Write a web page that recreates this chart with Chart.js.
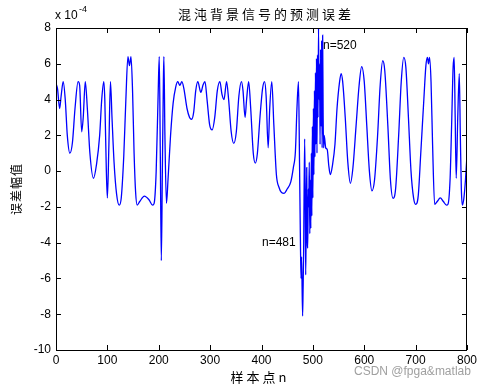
<!DOCTYPE html>
<html>
<head>
<meta charset="utf-8">
<script src="https://cdn.jsdelivr.net/npm/chart.js@4.4.1/dist/chart.umd.min.js"></script>
<style>
  html, body { margin: 0; padding: 0; background: #fff; }
  canvas { display: block; }
</style>
</head>
<body>
<canvas id="graficoError" width="490" height="388"></canvas>
<script>
// sample index n and prediction error (units of 1e-4)
const muestras = [
  0, 3, 7, 10, 14, 18, 22, 27, 32, 37, 43, 46, 50, 53, 57, 61, 66, 73, 79, 85,
  89, 93, 95, 98, 100, 103, 106, 109, 113, 118, 123, 127, 132, 136, 140, 143, 146, 149, 152, 155,
  158, 163, 172, 181, 188, 191, 195, 199, 201, 203, 205, 207, 209, 210, 212, 215, 218, 223, 228, 233,
  237, 241, 245, 249, 255, 260, 264, 268, 272, 276, 282, 286, 290, 294, 299, 304, 309, 314, 319, 323,
  327, 332, 336, 341, 346, 351, 356, 361, 364, 368, 371, 375, 379, 384, 388, 392, 397, 402, 406, 409,
  413, 416, 420, 424, 429, 434, 439, 444, 450, 457, 462, 466, 469, 472, 474, 476, 477, 478, 480, 481,
  482, 484, 485, 486, 487, 488, 489, 490, 491, 492, 493, 494, 495, 496, 497, 498, 499, 500, 501, 502,
  503, 504, 505, 506, 507, 508, 509, 510, 511, 512, 513, 514, 515, 516, 517, 518, 519, 520, 521, 522,
  525, 528, 531, 534, 538, 543, 547, 552, 555, 558, 563, 568, 573, 578, 584, 590, 595, 600, 605, 610,
  615, 620, 626, 631, 636, 640, 646, 651, 656, 661, 667, 672, 677, 681, 686, 691, 696, 700, 705, 710,
  716, 720, 723, 725, 727, 730, 733, 737, 742, 748, 754, 760, 763, 767, 770, 773, 775, 777, 779, 782,
  785, 787, 789, 791, 794, 797, 800
];
const errores = [
  4.9, 4.6, 3.5, 4.2, 5.0, 4.0, 2.0, 1.0, 1.6, 3.5, 5.0, 4.8, 2.2, 3.0, 5.0, 3.5, 1.0, -0.4, 0.4, 2.0,
  4.0, 5.0, 4.0, 0.0, -1.5, 1.5, 5.0, 3.0, 0.5, -1.3, -1.9, -1.5, 0.9, 4.0, 6.4, 5.9, 6.4, 4.5, 1.0, -1.2,
  -1.9, -1.7, -1.4, -1.6, -1.9, -1.8, 0.0, 4.5, 6.4, 1.0, -5.0, 0.0, 5.0, 6.4, 2.0, -1.8, -0.5, 2.0, 3.8, 4.7,
  5.0, 4.8, 5.0, 4.6, 3.5, 3.0, 2.9, 3.3, 4.5, 5.0, 4.4, 4.8, 5.0, 4.0, 2.6, 2.3, 3.0, 4.5, 5.0, 4.3,
  4.0, 5.0, 4.0, 2.2, 1.55, 2.2, 4.2, 5.0, 4.5, 3.0, 4.0, 5.0, 3.5, 1.0, 0.45, 1.0, 3.0, 4.6, 5.0, 4.2,
  1.3, 3.5, 5.0, 2.6, -0.2, -0.9, -1.2, -1.24, -1.0, -0.6, 0.2, 1.1, 3.5, 5.0, 0.5, -4.5, -6.0, -4.8, -8.1, -6.5,
  -4.5, 1.8, -1.0, -5.8, -3.0, 0.2, -3.5, -4.3, -1.0, -2.0, 0.5, -3.5, -0.5, -3.2, 1.0, -2.5, 2.5, -1.5, 3.5, -0.2,
  4.5, 0.8, 5.5, 1.5, 6.3, 1.0, 6.5, 3.0, 8.0, 4.0, 6.0, 1.5, 6.8, 2.5, 7.3, 1.3, 7.6, 3.0, 1.3, 2.0,
  1.3, 1.2, 0.3, -0.2, 0.3, 1.5, 3.5, 5.0, 5.45, 5.0, 3.0, 0.5, -0.68, 0.2, 2.5, 4.8, 5.84, 5.0, 2.5, 0.0,
  -1.1, -0.5, 2.0, 4.8, 6.17, 5.6, 2.5, -0.5, -1.52, -1.0, 2.0, 5.0, 6.36, 5.8, 3.0, 0.0, -1.5, -1.86, -1.4, 1.0,
  4.0, 5.9, 6.36, 6.0, 6.36, 5.0, 1.5, -1.86, -1.7, -1.5, -1.7, -1.9, -1.85, -0.5, 2.5, 5.8, 6.36, 3.0, -0.4, 3.0,
  5.45, 2.0, -1.0, -1.9, -1.5, -0.5, 0.9
];
const ticksX = [0, 100, 200, 300, 400, 500, 600, 700, 800];
const ticksY = [-10, -8, -6, -4, -2, 0, 2, 4, 6, 8];

const puntos = muestras.map((n, i) => ({ x: n, y: errores[i] }));

const fuenteNum = '"Liberation Sans", Arial, sans-serif';
const fuenteCJK = '"Noto Sans CJK SC", sans-serif';

const marcoMatlab = {
    id: 'marcoMatlab',
    afterDraw(chart) {
        const { ctx, chartArea: a, scales } = chart;
        ctx.save();
        ctx.strokeStyle = '#000';
        ctx.lineWidth = 1;
        ctx.strokeRect(a.left + 0.5, a.top + 0.5, a.right - a.left - 1, a.bottom - a.top);
        ctx.beginPath();
        ticksX.forEach(v => {
            const x = Math.round(scales.x.getPixelForValue(v)) + 0.5;
            ctx.moveTo(x, a.bottom); ctx.lineTo(x, a.bottom - 5);
            ctx.moveTo(x, a.top); ctx.lineTo(x, a.top + 5);
        });
        ticksY.forEach(v => {
            const y = Math.round(scales.y.getPixelForValue(v)) + 0.5;
            ctx.moveTo(a.left, y); ctx.lineTo(a.left + 5, y);
            ctx.moveTo(a.right, y); ctx.lineTo(a.right - 5, y);
        });
        ctx.stroke();

        ctx.fillStyle = '#000';
        ctx.textBaseline = 'middle';

        // title
        ctx.font = '13px ' + fuenteCJK;
        ctx.letterSpacing = '3px';
        ctx.textAlign = 'center';
        ctx.fillText('混沌背景信号的预测误差', 266, 14);
        ctx.fillText('样本点n', 260, 377);

        ctx.font = '12px ' + fuenteCJK;
        ctx.letterSpacing = '1px';
        ctx.save();
        ctx.translate(16, 189);
        ctx.rotate(-Math.PI / 2);
        ctx.fillText('误差幅值', 0, 0);
        ctx.restore();
        ctx.letterSpacing = '0px';

        // exponent
        ctx.textAlign = 'left';
        ctx.font = '12px ' + fuenteNum;
        ctx.fillText('x 10', 55, 16);
        ctx.font = '9px ' + fuenteNum;
        ctx.fillText('-4', 79, 10);

        // notes
        ctx.font = '12px ' + fuenteNum;
        ctx.fillText('n=520', 323, 46);
        ctx.fillText('n=481', 262, 243);

        // watermark
        ctx.fillStyle = '#a0a0a0';
        ctx.fillText('CSDN @fpga&matlab', 354, 372);
        ctx.restore();
    }
};

const ctx = document.getElementById('graficoError').getContext('2d');

new Chart(ctx, {
    type: 'line',
    data: {
        datasets: [{
            data: puntos,
            borderColor: '#0000ff',
            borderWidth: 1.3,
            pointRadius: 0,
            cubicInterpolationMode: 'monotone',
            fill: false
        }]
    },
    options: {
        responsive: false,
        animation: false,
        layout: {
            padding: { top: 28, right: 23, left: 0, bottom: 0 }
        },
        plugins: {
            legend: { display: false },
            tooltip: { enabled: false }
        },
        scales: {
            x: {
                type: 'linear',
                min: 0,
                max: 800,
                afterBuildTicks: s => { s.ticks = ticksX.map(v => ({ value: v })); },
                afterFit: s => { s.height = 38; },
                grid: { display: false, drawTicks: false },
                border: { display: false },
                ticks: {
                    padding: 3,
                    maxRotation: 0,
                    color: '#000',
                    font: { family: fuenteNum, size: 12 }
                }
            },
            y: {
                type: 'linear',
                min: -10,
                max: 8,
                afterBuildTicks: s => { s.ticks = ticksY.map(v => ({ value: v })); },
                afterFit: s => { s.width = 56; },
                grid: { display: false, drawTicks: false },
                border: { display: false },
                ticks: {
                    padding: 5,
                    color: '#000',
                    font: { family: fuenteNum, size: 12 }
                }
            }
        }
    },
    plugins: [marcoMatlab]
});
</script>
</body>
</html>
